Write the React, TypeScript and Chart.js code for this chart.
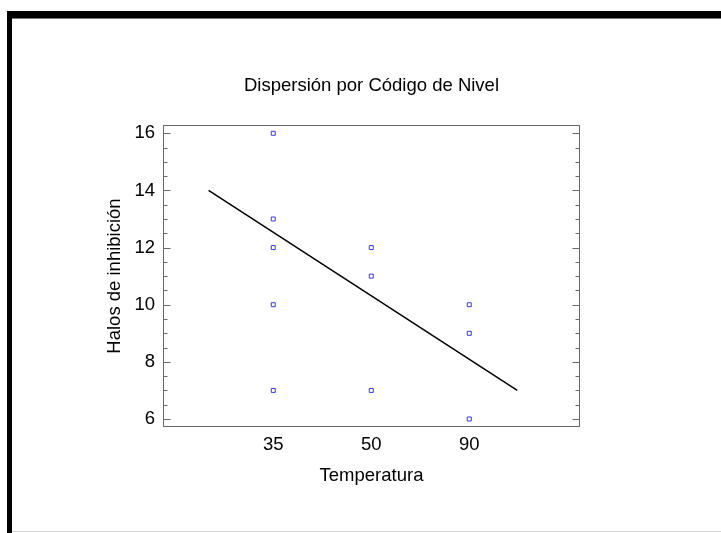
import React, { useEffect, useRef } from 'react';
import { Chart, registerables } from 'chart.js';

Chart.register(...registerables);

const chartTitle = 'Dispersión por Código de Nivel';
const xTitle = 'Temperatura';
const yTitle = 'Halos de inhibición';

const levelLabels = ['35', '50', '90'];
const levelCodes = [0, 1, 2];
const halos35 = [16, 13, 12, 10, 7];
const halos50 = [12, 11, 7];
const halos90 = [10, 9, 6];
const fitX = [-0.66, 2.49];
const fitY = [14.0, 7.0];
const yMajorTicks = [6, 8, 10, 12, 14, 16];
const yMinorStep = 0.5;

const FONT = "'Liberation Sans', Arial, Helvetica, sans-serif";
const FS = 18.5;

const framePlugin = {
  id: 'frameTicks',
  afterDatasetsDraw(chart: any) {
    const { ctx, chartArea: a, scales } = chart;
    const y = scales.y;
    ctx.save();
    ctx.strokeStyle = '#6a6a6a';
    ctx.lineWidth = 1;
    const l = Math.round(a.left) + 0.5;
    const r = Math.round(a.right) - 0.5;
    const t = Math.round(a.top) + 0.5;
    const b = Math.round(a.bottom) - 0.5;
    ctx.strokeRect(l, t, r - l, b - t);
    ctx.beginPath();
    const lo = yMajorTicks[0];
    const hi = yMajorTicks[yMajorTicks.length - 1];
    for (let v = lo; v <= hi + 1e-9; v += yMinorStep) {
      const py = Math.round(y.getPixelForValue(v)) + 0.5;
      const major = yMajorTicks.some((m) => Math.abs(m - v) < 1e-9);
      const len = major ? 7 : 4;
      ctx.moveTo(l, py);
      ctx.lineTo(l + len, py);
      ctx.moveTo(r, py);
      ctx.lineTo(r - len, py);
    }
    ctx.stroke();
    ctx.restore();
  },
};

export default function App() {
  const ref = useRef<HTMLCanvasElement | null>(null);

  useEffect(() => {
    if (!ref.current) return;
    const points = [
      ...halos35.map((v) => ({ x: levelCodes[0], y: v })),
      ...halos50.map((v) => ({ x: levelCodes[1], y: v })),
      ...halos90.map((v) => ({ x: levelCodes[2], y: v })),
    ];
    const fitLine = fitX.map((x, i) => ({ x, y: fitY[i] }));

    const chart = new Chart(ref.current, {
      type: 'scatter',
      data: {
        datasets: [
          {
            label: 'Observaciones',
            data: points,
            pointStyle: 'rect',
            pointRadius: 2.8,
            borderWidth: 1,
            borderColor: '#3535ff',
            backgroundColor: '#ffffff',
          },
          {
            label: 'Ajuste',
            data: fitLine,
            showLine: true,
            pointRadius: 0,
            borderColor: '#000000',
            borderWidth: 1.5,
          },
        ],
      },
      options: {
        responsive: false,
        animation: false,
        devicePixelRatio: 1,
        layout: { padding: { left: 100, right: 141, top: 74.9, bottom: 42 } },
        plugins: {
          legend: { display: false },
          tooltip: { enabled: false },
          title: {
            display: true,
            text: chartTitle,
            fullSize: false,
            color: '#000',
            font: { family: FONT, size: FS, weight: 'normal' },
            padding: { top: 0, bottom: 27.9 },
          },
        },
        scales: {
          x: {
            type: 'linear',
            min: -1.125,
            max: 3.13,
            afterBuildTicks: (s: any) => {
              s.ticks = levelCodes.map((v) => ({ value: v }));
            },
            afterFit: (s: any) => {
              s.height = 64;
            },
            grid: { display: false, drawTicks: false },
            border: { display: false },
            ticks: {
              color: '#000',
              padding: 6.9,
              font: { family: FONT, size: FS },
              callback: (v: any) => levelLabels[levelCodes.indexOf(Number(v))] ?? '',
            },
            title: {
              display: true,
              text: xTitle,
              color: '#000',
              font: { family: FONT, size: FS },
            },
          },
          y: {
            type: 'linear',
            min: 5.72,
            max: 16.29,
            afterBuildTicks: (s: any) => {
              s.ticks = yMajorTicks.map((v) => ({ value: v }));
            },
            afterFit: (s: any) => {
              s.width = 63;
            },
            grid: { display: false, drawTicks: false },
            border: { display: false },
            ticks: {
              color: '#000',
              padding: 8,
              font: { family: FONT, size: FS },
              callback: (v: any) => String(v),
            },
            title: {
              display: true,
              text: yTitle,
              color: '#000',
              font: { family: FONT, size: FS },
            },
          },
        },
      },
      plugins: [framePlugin],
    });
    return () => chart.destroy();
  }, []);

  return (
    <div
      style={{
        position: 'absolute',
        left: 0,
        top: 0,
        width: 721,
        height: 533,
        background: '#fff',
        overflow: 'hidden',
      }}
    >
      <canvas ref={ref} width={721} height={533} style={{ display: 'block', width: 721, height: 533 }} />
      <div style={{ position: 'absolute', left: 7, top: 11, width: 714, height: 7, background: '#000' }} />
      <div style={{ position: 'absolute', left: 12, top: 18, width: 709, height: 1, background: '#777' }} />
      <div style={{ position: 'absolute', left: 7, top: 11, width: 5, height: 522, background: '#000' }} />
      <div style={{ position: 'absolute', left: 12, top: 531, width: 709, height: 1, background: '#d8d8d8' }} />
    </div>
  );
}
